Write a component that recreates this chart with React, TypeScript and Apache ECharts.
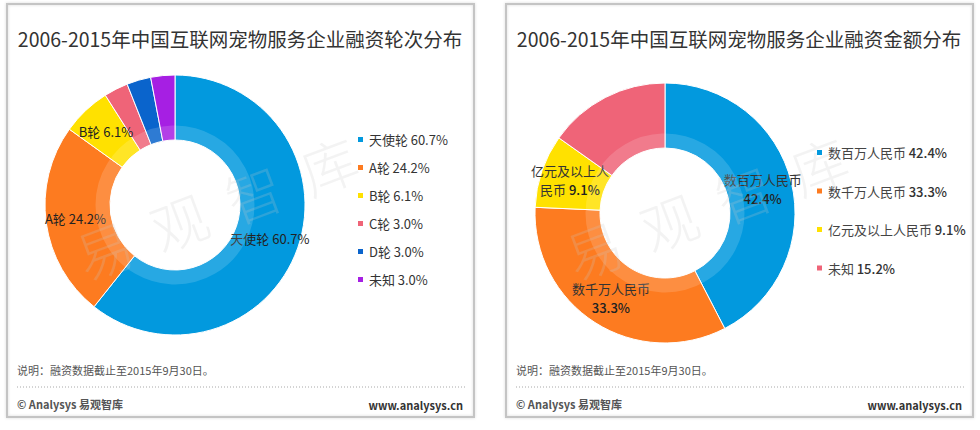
import React, { useEffect, useRef } from "react";
import * as echarts from "echarts";

const leftTitle = "2006-2015年中国互联网宠物服务企业融资轮次分布";
const rightTitle = "2006-2015年中国互联网宠物服务企业融资金额分布";
const roundNames = ["天使轮", "A轮", "B轮", "C轮", "D轮", "未知"];
const roundValues = [60.7, 24.2, 6.1, 3.0, 3.0, 3.0];
const roundColors = ["#0299de", "#fd7b20", "#ffe100", "#ef6478", "#0a64cc", "#a61fe3"];
const roundLabelShown = [true, true, true, false, false, false];
const amountNames = ["数百万人民币", "数千万人民币", "亿元及以上人民币", "未知"];
const amountValues = [42.4, 33.3, 9.1, 15.2];
const amountColors = ["#0299de", "#fd7b20", "#ffe100", "#ef6478"];
const amountLabelShown = [true, true, true, false];
const noteText = "说明：融资数据截止至2015年9月30日。";
const sourceText = "© Analysys 易观智库";
const siteText = "www.analysys.cn";
const watermarkChars = ["易", "观", "智", "库"];

const FONT = '"Noto Sans CJK SC", "Noto Sans", sans-serif';

function panel(x0: number, title: string, cx: number, cy: number): any[] {
  const els: any[] = [
    {
      type: "rect",
      shape: { x: x0, y: 4, width: 467, height: 413 },
      style: { fill: "none", stroke: "#c4c4c4", lineWidth: 2, shadowBlur: 3, shadowColor: "rgba(0,0,0,0.15)" },
      z: 0,
    },
    {
      type: "text",
      x: x0 + 233,
      y: 38,
      style: { text: title, font: `19.5px ${FONT}`, fill: "#333", align: "center", verticalAlign: "middle" },
      z: 5,
    },
    {
      type: "text",
      x: x0 + 10,
      y: 370,
      style: { text: noteText, font: `11px ${FONT}`, fill: "#555", align: "left", verticalAlign: "middle" },
      z: 5,
    },
    {
      type: "line",
      shape: { x1: x0 + 10, y1: 387, x2: x0 + 458, y2: 387 },
      style: { stroke: "#a8a8a8", lineWidth: 1, lineDash: [1, 2] },
      z: 5,
    },
    {
      type: "text",
      x: x0 + 10,
      y: 404,
      style: { text: sourceText, font: `bold 11px ${FONT}`, fill: "#555", align: "left", verticalAlign: "middle" },
      z: 5,
    },
    {
      type: "text",
      x: x0 + 456,
      y: 405,
      style: { text: siteText, font: `bold 11px ${FONT}`, fill: "#333", align: "right", verticalAlign: "middle" },
      z: 5,
    },
    {
      type: "circle",
      shape: { cx, cy, r: 72 },
      style: { fill: "none", stroke: "rgba(255,255,255,0.15)", lineWidth: 15 },
      z: 20,
      silent: true,
    },
    {
      type: "group",
      x: cx + 41,
      y: 206,
      rotation: 0.36,
      z: 20,
      silent: true,
      children: watermarkChars.map((ch, i) => ({
        type: "text",
        x: (i - 1.5) * 80,
        y: 0,
        z: 20,
        style: {
          text: ch,
          font: `300 56px ${FONT}`,
          fill: "rgba(200,200,200,0.22)",
          align: "center",
          verticalAlign: "middle",
        },
      })),
    },
  ];
  return els;
}

export default function App() {
  const ref = useRef<HTMLDivElement>(null);
  useEffect(() => {
    document.body.style.margin = "0";
    if (!ref.current) return;
    const chart = echarts.init(ref.current, null, { renderer: "svg" });

    const leftData = roundNames.map((n, i) => ({
      name: n,
      value: roundValues[i],
      itemStyle: { color: roundColors[i] },
      label: { show: roundLabelShown[i] },
    }));
    const rightData = amountNames.map((n, i) => ({
      name: n,
      value: amountValues[i],
      itemStyle: { color: amountColors[i] },
      label: { show: amountLabelShown[i] },
    }));

    const option: any = {
      animation: false,
      backgroundColor: "#fff",
      textStyle: { fontFamily: FONT },
      legend: [
        {
          orient: "vertical",
          left: 356,
          top: 133,
          padding: 0,
          itemWidth: 7,
          itemHeight: 7,
          itemGap: 15,
          icon: "rect",
          selectedMode: false,
          data: roundNames.map((n, i) => ({ name: n, itemStyle: { color: roundColors[i] } })),
          formatter: (name: string) => {
            const i = roundNames.indexOf(name);
            return `{n|${name}} {v|${roundValues[i].toFixed(1)}%}`;
          },
          textStyle: {
            rich: {
              n: { fontSize: 13, color: "#333", fontFamily: FONT, lineHeight: 16 },
              v: { fontSize: 13, color: "#333", fontFamily: FONT, lineHeight: 16 },
            },
          },
        },
        {
          orient: "vertical",
          left: 815,
          top: 146,
          padding: 0,
          itemWidth: 7,
          itemHeight: 7,
          itemGap: 25.5,
          icon: "rect",
          selectedMode: false,
          data: amountNames.map((n, i) => ({ name: n, itemStyle: { color: amountColors[i] } })),
          formatter: (name: string) => {
            const i = amountNames.indexOf(name);
            return `{n|${name}} {v|${amountValues[i].toFixed(1)}%}`;
          },
          textStyle: {
            rich: {
              n: { fontSize: 13, color: "#444", fontFamily: FONT, lineHeight: 16 },
              v: { fontSize: 13, color: "#333", fontWeight: 500, fontFamily: FONT, lineHeight: 16 },
            },
          },
        },
      ],
      graphic: [...panel(7, leftTitle, 175, 205), ...panel(506, rightTitle, 665, 213)],
      series: [
        {
          type: "pie",
          center: [175, 205],
          radius: [65, 130],
          startAngle: 90,
          clockwise: true,
          avoidLabelOverlap: false,
          silent: true,
          itemStyle: { borderColor: "#fff", borderWidth: 1 },
          label: {
            position: "inside",
            fontSize: 13,
            color: "#222",
            fontFamily: FONT,
            formatter: (p: any) => `${p.name} ${Number(p.value).toFixed(1)}%`,
          },
          labelLine: { show: false },
          data: leftData,
        },
        {
          type: "pie",
          center: [665, 213],
          radius: [65, 130],
          startAngle: 90,
          clockwise: true,
          avoidLabelOverlap: false,
          silent: true,
          itemStyle: { borderColor: "#fff", borderWidth: 1 },
          label: {
            position: "inside",
            fontSize: 13,
            color: "#333",
            fontFamily: FONT,
            lineHeight: 19,
            align: "center",
            formatter: (p: any) => {
              const name: string = p.name;
              const v = `${Number(p.value).toFixed(1)}%`;
              if (name.length > 6) return `${name.slice(0, 6)}\n${name.slice(6)} {b|${v}}`;
              return `${name}\n{b|${v}}`;
            },
            rich: {
              b: { fontSize: 13, color: "#222", fontWeight: 500, fontFamily: FONT, lineHeight: 19 },
            },
          },
          labelLine: { show: false },
          data: rightData,
        },
      ],
    };
    chart.setOption(option);
    return () => chart.dispose();
  }, []);
  return <div ref={ref} style={{ width: 980, height: 430 }} />;
}
